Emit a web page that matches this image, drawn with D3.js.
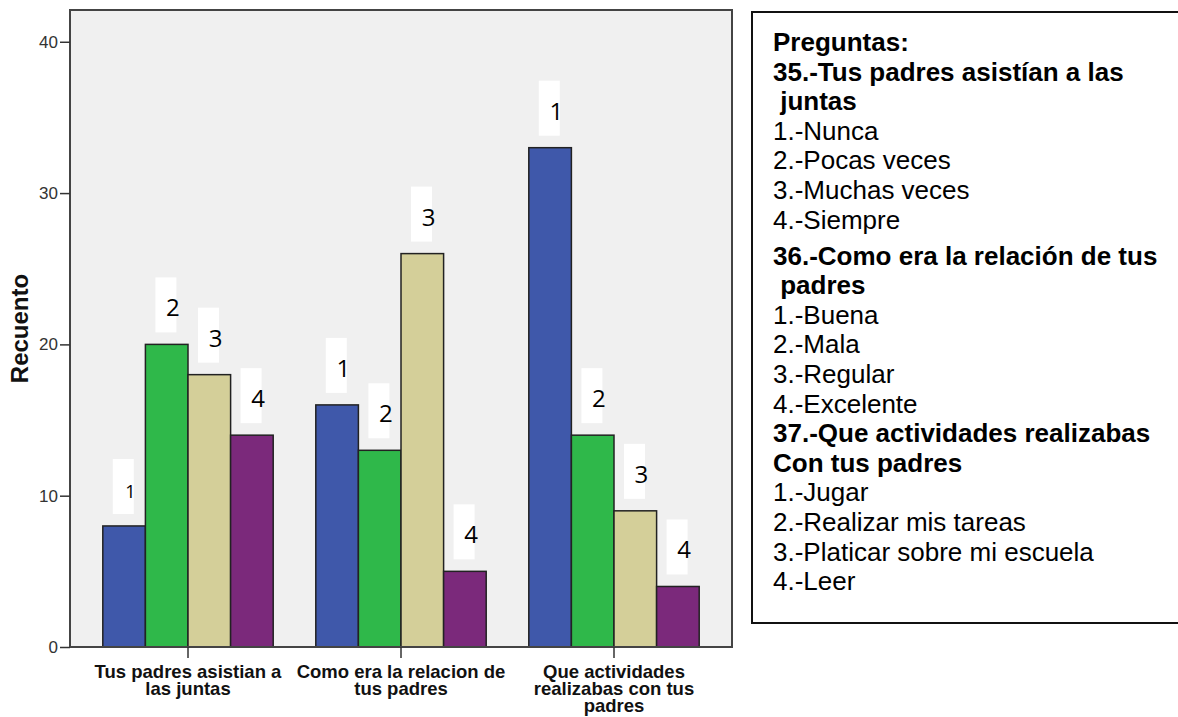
<!DOCTYPE html>
<html><head><meta charset="utf-8">
<script src="https://cdn.jsdelivr.net/npm/d3@7"></script>
<style>body{margin:0;background:#fff;} svg{display:block;}</style>
</head><body>
<svg id="chart" width="1178" height="717"></svg>
<script>
// ---- data ----
const categories = ["Tus padres asistian a las juntas", "Como era la relacion de tus padres", "Que actividades realizabas con tus padres"];
const categoryLines = [["Tus padres asistian a", "las juntas"], ["Como era la relacion de", "tus padres"], ["Que actividades", "realizabas con tus", "padres"]];
const answers = ["1", "2", "3", "4"];
const values = [[8, 20, 18, 14], [16, 13, 26, 5], [33, 14, 9, 4]];
const yTicks = [0, 10, 20, 30, 40];
const yTitle = "Recuento";
const legendText = [
  "Preguntas:", "35.-Tus padres asistían a las", " juntas", "1.-Nunca", "2.-Pocas veces", "3.-Muchas veces", "4.-Siempre",
  "36.-Como era la relación de tus", " padres", "1.-Buena", "2.-Mala", "3.-Regular", "4.-Excelente",
  "37.-Que actividades realizabas", "Con tus padres", "1.-Jugar", "2.-Realizar mis tareas", "3.-Platicar sobre mi escuela", "4.-Leer"
];
const legendBold = [1,1,1,0,0,0,0, 1,1,0,0,0,0, 1,1,0,0,0,0];

// ---- layout ----
const svg = d3.select("#chart");
const P = {left: 70, top: 10, right: 732, bottom: 647};
const sans = "'Liberation Sans', Arial, sans-serif";

const y = d3.scaleLinear().domain([0, 42.1]).range([P.bottom, P.top]);
const x0 = d3.scaleBand().domain(categories).range([P.left, P.right]).paddingInner(0.2).paddingOuter(0.154);
const x1 = d3.scaleBand().domain(answers).range([0, x0.bandwidth()]);
const color = d3.scaleOrdinal().domain(answers).range(["#3f58aa", "#2fb84a", "#d4cf99", "#7b297b"]);

svg.append("rect").attr("x", P.left).attr("y", P.top)
  .attr("width", P.right - P.left).attr("height", P.bottom - P.top).attr("fill", "#f0f0f0");

const g = svg.selectAll("g.grp").data(categories).join("g").attr("class", "grp")
  .attr("transform", d => `translate(${x0(d)},0)`);

g.selectAll("rect.bar").data((d, i) => values[i].map((v, j) => ({a: answers[j], v}))).join("rect")
  .attr("class", "bar")
  .attr("x", d => x1(d.a)).attr("y", d => y(d.v))
  .attr("width", x1.bandwidth()).attr("height", d => y(0) - y(d.v))
  .attr("fill", d => color(d.a)).attr("stroke", "#222").attr("stroke-width", 1.5);

// annotation boxes
const lab = g.selectAll("g.lab").data((d, i) => values[i].map((v, j) => ({a: answers[j], v, i, j}))).join("g")
  .attr("class", "lab")
  .attr("transform", d => `translate(${x1(d.a) + 10},${y(d.v) - 12 - 55})`);
lab.append("rect").attr("width", 21).attr("height", 55).attr("fill", "#fff");
lab.append("text").attr("x", 17.5).attr("y", 39)
  .attr("text-anchor", "middle").attr("font-family", "'Open Sans', sans-serif")
  .attr("font-size", d => (d.i === 0 && d.j === 0) ? 18 : 24).attr("fill", "#000")
  .text(d => d.a);

// frame
svg.append("rect").attr("x", P.left).attr("y", P.top)
  .attr("width", P.right - P.left).attr("height", P.bottom - P.top)
  .attr("fill", "none").attr("stroke", "#444").attr("stroke-width", 2);

// y axis
const ya = svg.append("g").attr("transform", `translate(${P.left},0)`)
  .call(d3.axisLeft(y).tickValues(yTicks).tickSize(10).tickPadding(2).tickFormat(d3.format("d")));
ya.select(".domain").remove();
ya.selectAll("line").attr("stroke", "#333").attr("stroke-width", 1.5);
ya.selectAll("text").attr("font-family", sans).attr("font-size", 17).attr("fill", "#333");

// x axis ticks
const xa = svg.append("g").attr("transform", `translate(0,${P.bottom})`)
  .call(d3.axisBottom(x0).tickSize(11).tickFormat(""));
xa.select(".domain").remove();
xa.selectAll("line").attr("stroke", "#333").attr("stroke-width", 1.5);

// x labels
svg.selectAll("text.xl").data(categories).join("text").attr("class", "xl")
  .attr("x", d => x0(d) + x0.bandwidth() / 2).attr("y", 678)
  .attr("text-anchor", "middle").attr("font-family", sans).attr("font-weight", "bold")
  .attr("font-size", 18.5).attr("fill", "#111")
  .selectAll("tspan").data((d, i) => categoryLines[i]).join("tspan")
  .attr("x", function () { return this.parentNode.getAttribute("x"); })
  .attr("dy", (d, k) => k === 0 ? 0 : 17)
  .text(d => d);

// y title
svg.append("text").attr("transform", `translate(20,${(P.top + P.bottom) / 2}) rotate(-90)`)
  .attr("dy", "0.35em").attr("text-anchor", "middle")
  .attr("font-family", sans).attr("font-weight", "bold").attr("font-size", 24).attr("fill", "#111")
  .text(yTitle);

// legend box
svg.append("rect").attr("x", 752).attr("y", 12).attr("width", 440).attr("height", 611)
  .attr("fill", "#fff").attr("stroke", "#111").attr("stroke-width", 2);
let base = 51;
const lg = svg.append("g");
legendText.forEach((t, k) => {
  if (k > 0) base += (k === 7 ? 36 : 29.6);
  lg.append("text").attr("x", 773).attr("y", base)
    .attr("font-family", sans).attr("font-size", 26)
    .attr("font-weight", legendBold[k] ? "bold" : "normal")
    .attr("fill", "#000").style("white-space", "pre").text(t);
});
</script>
</body></html>
